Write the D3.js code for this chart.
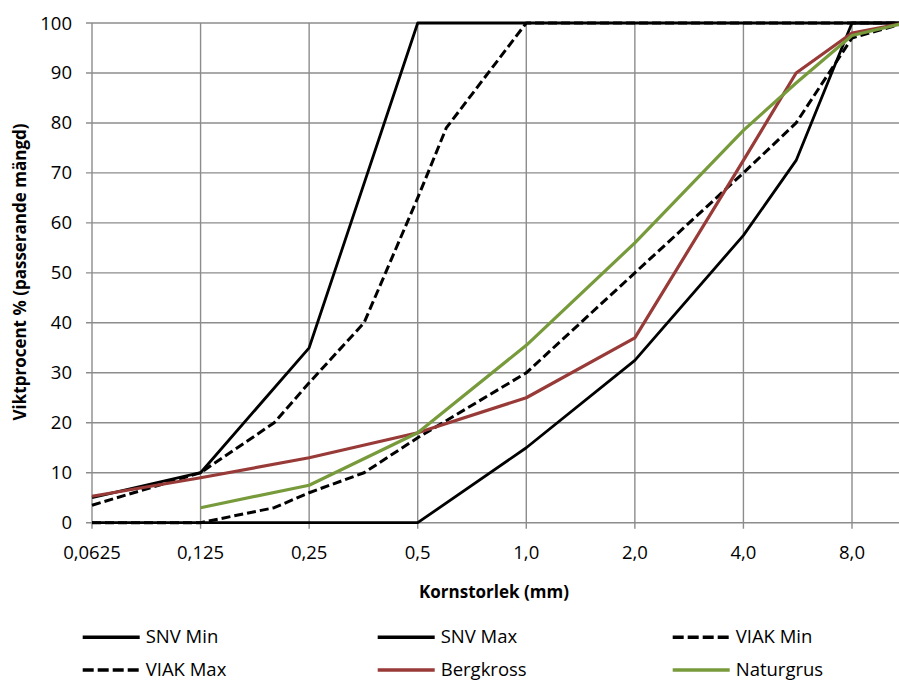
<!DOCTYPE html>
<html>
<head>
<meta charset="utf-8">
<script src="https://cdn.jsdelivr.net/npm/d3@7"></script>
<style>
  body { margin: 0; background: #fff; }
  svg { display: block; font-family: 'Open Sans', sans-serif; }
</style>
</head>
<body>
<div id="chart"></div>
<script>
// sieve sizes (mm) and passing percentages, null = no value
const sieves = [0.0625, 0.125, 0.2, 0.25, 0.355, 0.5, 0.6, 1, 2, 4, 5.6, 8, 11.2]
const snvMin = [0, 0, null, 0, null, 0, null, 15, 32.5, 57.5, 72.5, 100, 100]
const snvMax = [5, 10, null, 35, null, 100, null, 100, 100, 100, 100, 100, 100]
const viakMin = [0, 0, 3, 6, 10, 17, null, 30, 50, 70, 80, 97, 100]
const viakMax = [3.5, 10, 20, 28, 40, 65, 79, 100, 100, 100, 100, 100, 100]
const bergkross = [5.3, 9, null, 13, null, 18, null, 25, 37, 72.5, 90, 98, 100]
const naturgrus = [null, 3, null, 7.5, null, 18, null, 35.5, 56, 78.5, 88, 97.5, 100]

const xTicks = [0.0625, 0.125, 0.25, 0.5, 1, 2, 4, 8]
const xTickLabels = ['0,0625', '0,125', '0,25', '0,5', '1,0', '2,0', '4,0', '8,0']
const yTicks = [0, 10, 20, 30, 40, 50, 60, 70, 80, 90, 100]

const seriesNames = ['SNV Min', 'SNV Max', 'VIAK Min', 'VIAK Max', 'Bergkross', 'Naturgrus']
const seriesValues = [snvMin, snvMax, viakMin, viakMax, bergkross, naturgrus]
const seriesColors = ['#000', '#000', '#000', '#000', '#983a37', '#779a3b']
const seriesDash = [null, null, '9,4', '9,4', null, null]
const seriesWidth = [2.8, 2.8, 3, 3, 3.2, 3.2]

const width = 899
const height = 681

//scales
const x = d3.scaleLog().base(2)
    .domain([0.0625, 8])
    .range([92, 852])
const y = d3.scaleLinear()
    .domain([0, 100])
    .range([522.7, 23])

const svg = d3.select('#chart')
    .append('svg')
    .attr('width', width)
    .attr('height', height)

//grid
const gridColor = '#8c8c8c'
svg.append('g')
    .selectAll('line')
    .data(yTicks)
    .enter()
    .append('line')
    .attr('x1', 86)
    .attr('x2', width)
    .attr('y1', (d) => y(d))
    .attr('y2', (d) => y(d))
    .attr('stroke', gridColor)
    .attr('stroke-width', 1.4)

svg.append('g')
    .selectAll('line')
    .data(xTicks)
    .enter()
    .append('line')
    .attr('x1', (d) => x(d))
    .attr('x2', (d) => x(d))
    .attr('y1', y(100))
    .attr('y2', y(0) + 6)
    .attr('stroke', gridColor)
    .attr('stroke-width', 1.4)

//tick labels
svg.append('g')
    .selectAll('text')
    .data(yTicks)
    .enter()
    .append('text')
    .attr('x', 72)
    .attr('y', (d) => y(d) + 6.5)
    .attr('text-anchor', 'end')
    .style('font-size', '18.5px')
    .style('fill', '#000')
    .text((d) => d)

svg.append('g')
    .selectAll('text')
    .data(xTicks)
    .enter()
    .append('text')
    .attr('x', (d) => x(d))
    .attr('y', 559)
    .attr('text-anchor', 'middle')
    .style('font-size', '18.5px')
    .text((d, i) => xTickLabels[i])

//axis titles
svg.append('text')
    .attr('x', 494)
    .attr('y', 598)
    .attr('text-anchor', 'middle')
    .style('font-size', '17px')
    .style('font-weight', 'bold')
    .text('Kornstorlek (mm)')

svg.append('text')
    .attr('transform', 'translate(26,272) rotate(-90)')
    .attr('text-anchor', 'middle')
    .style('font-size', '17px')
    .style('font-weight', 'bold')
    .text('Viktprocent % (passerande mängd)')

//series
const line = d3.line()
    .x((d) => x(d[0]))
    .y((d) => y(d[1]))

svg.append('g')
    .selectAll('path')
    .data(seriesValues.map((vals) => sieves.map((s, i) => [s, vals[i]]).filter((d) => d[1] != null)))
    .enter()
    .append('path')
    .attr('d', line)
    .attr('fill', 'none')
    .attr('stroke', (d, i) => seriesColors[i])
    .attr('stroke-width', (d, i) => seriesWidth[i])
    .attr('stroke-dasharray', (d, i) => seriesDash[i])
    .attr('stroke-linejoin', 'round')

//legend
const legendCols = [82.7, 377.7, 672.7]
const legendRows = [637.3, 670]
const legend = svg.append('g')
    .selectAll('g')
    .data(seriesNames)
    .enter()
    .append('g')
    .attr('transform', (d, i) => `translate(${legendCols[i % 3]},${legendRows[Math.floor(i / 3)]})`)
legend.append('line')
    .attr('x1', 0)
    .attr('x2', 57)
    .attr('stroke', (d, i) => seriesColors[i])
    .attr('stroke-width', 3.4)
    .attr('stroke-dasharray', (d, i) => seriesDash[i] ? '11,4' : null)
legend.append('text')
    .attr('x', 63)
    .attr('y', 6)
    .style('font-size', '18.5px')
    .text((d) => d)
</script>
</body>
</html>
